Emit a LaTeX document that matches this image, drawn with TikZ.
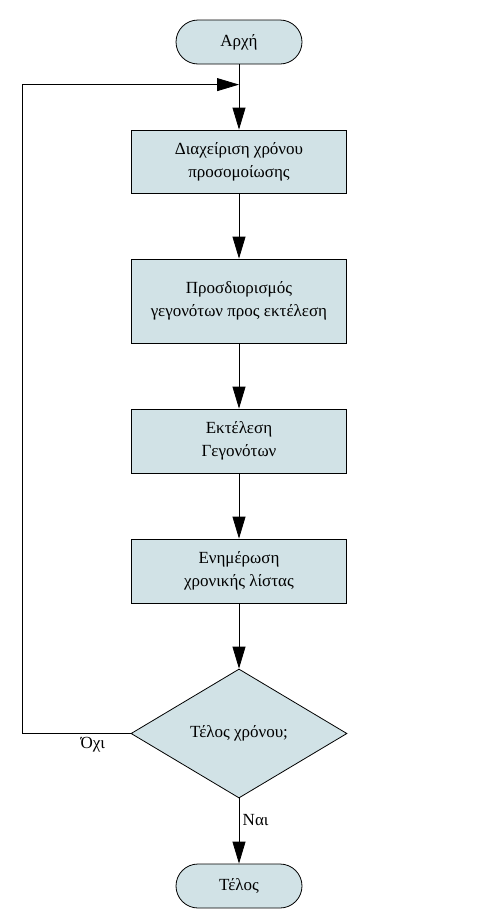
\documentclass[tikz,border=0pt]{standalone}
\usepackage{fontspec}
\setmainfont{Liberation Serif}
\usepackage{tikz}
\usetikzlibrary{arrows.meta, positioning, calc, shapes.geometric}
\definecolor{boxfill}{RGB}{209,226,230}

\begin{document}
\begin{tikzpicture}[x=1pt, y=1pt, node distance=65.2pt,
    every node/.style={font=\fontsize{17}{23}\selectfont},
    terminal/.style={draw, fill=boxfill, rounded corners=22pt, minimum width=126pt, minimum height=44pt, line width=0.8pt},
    process/.style={draw, fill=boxfill, minimum width=215pt, line width=0.8pt, align=center},
    decision/.style={draw, fill=boxfill, diamond, aspect=1.67, minimum width=216pt, minimum height=129pt, inner sep=0pt, line width=0.8pt},
    flow/.style={line width=0.8pt, -{Triangle[length=22pt, width=13pt]}}]
    \useasboundingbox (0, 0) rectangle (492, -916);

    % Nodes
    \node[terminal] (start) at (239, -42) {Αρχή};
    \node[process, minimum height=63pt, below=of start] (time) {Διαχείριση χρόνου\\προσομοίωσης};
    \node[process, minimum height=84pt, below=of time] (events) {Προσδιορισμός\\γεγονότων προς εκτέλεση};
    \node[process, minimum height=64pt, below=of events] (run) {Εκτέλεση\\Γεγονότων};
    \node[process, minimum height=64pt, below=of run] (update) {Ενημέρωση\\χρονικής λίστας};
    \node[decision, below=of update] (check) {Τέλος χρόνου;};
    \node[terminal, below=of check] (stop) {Τέλος};

    % Connectors
    \coordinate (merge) at ($(start.south)!0.31!(time.north)$);
    \draw[flow] (start) -- (time);
    \draw[flow] (time) -- (events);
    \draw[flow] (events) -- (run);
    \draw[flow] (run) -- (update);
    \draw[flow] (update) -- (check);
    \draw[flow] (check) -- (stop) node[pos=0.33, right] {Ναι};
    \draw[flow] (check.west) -- ++(-108, 0) node[pos=0.35, below] {Όχι} |- (merge);
\end{tikzpicture}
\end{document}
